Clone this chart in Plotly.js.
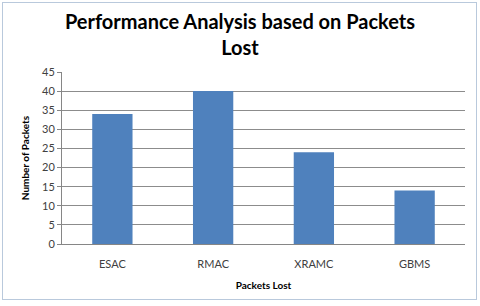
<!DOCTYPE html>
<html><head><meta charset="utf-8">
<script src="https://cdn.plot.ly/plotly-3.0.1.min.js"></script>
<style>
body{margin:0;padding:0;background:#fff;}
#wrap{position:relative;width:480px;height:306px;}
#chart{position:absolute;left:0;top:0;width:480px;height:306px;}
#frame{position:absolute;left:2px;top:2px;width:473px;height:296px;border:1px solid #b9c9dc;pointer-events:none;}
</style></head>
<body>
<div id="wrap"><div id="chart"></div><div id="frame"></div></div>
<script>
const categories = ["ESAC", "RMAC", "XRAMC", "GBMS"];
const packetsLost = [34, 40, 24, 14];
const yTicks = [0, 5, 10, 15, 20, 25, 30, 35, 40, 45];

const trace = {
  type: "bar",
  x: categories,
  y: packetsLost,
  marker: {color: "#4f81bd"},
  hoverinfo: "x+y"
};

const layout = {
  width: 480, height: 306,
  margin: {l: 62, r: 15, t: 72, b: 62},
  paper_bgcolor: "#ffffff",
  plot_bgcolor: "#ffffff",
  bargap: 0.6,
  showlegend: false,
  font: {family: "Lato, 'Open Sans', sans-serif", color: "#404040"},
  title: {
    text: "Performance Analysis based on Packets<br>Lost",
    font: {family: "Lato, sans-serif", size: 20, color: "#000000", weight: "bold"},
    xref: "container", x: 0.5, xanchor: "center",
    yref: "container", y: 0.905, yanchor: "middle"
  },
  xaxis: {
    type: "category",
    showline: true, linecolor: "#868686", linewidth: 1,
    ticks: "", showgrid: false,
    ticklabelstandoff: 10,
    tickfont: {size: 11, color: "#404040"},
    title: {text: "Packets Lost", font: {size: 10, color: "#000000", weight: "bold"}, standoff: 12}
  },
  yaxis: {
    range: [0, 45],
    tickvals: yTicks,
    ticktext: yTicks.map(String),
    showline: true, linecolor: "#868686", linewidth: 1,
    ticks: "outside", ticklen: 4, tickcolor: "#868686",
    showgrid: true, gridcolor: "#8c8c8c", gridwidth: 1,
    zeroline: false,
    tickfont: {size: 11, color: "#404040"},
    title: {text: "Number of Packets", font: {size: 10, color: "#000000", weight: "bold"}, standoff: 10}
  }
};

Plotly.newPlot("chart", [trace], layout, {displayModeBar: false, staticPlot: true});
</script>
</body></html>
